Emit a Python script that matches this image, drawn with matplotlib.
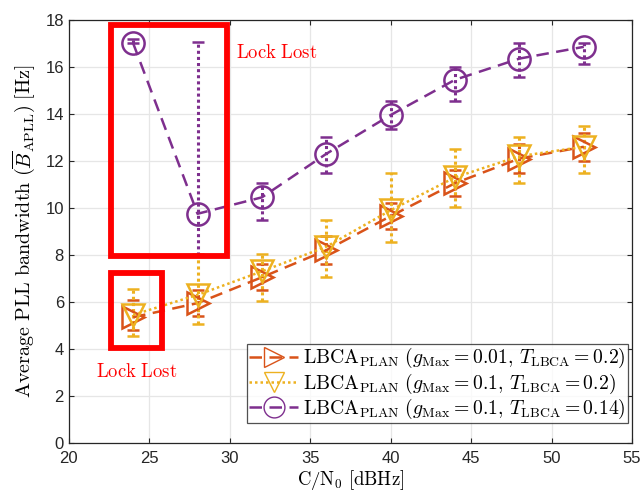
import numpy as np
import matplotlib
matplotlib.use('Agg')
import matplotlib.pyplot as plt
from matplotlib.patches import Rectangle
from matplotlib.lines import Line2D

plt.rcParams['mathtext.fontset'] = 'cm'
plt.rcParams['font.family'] = ['Liberation Sans', 'DejaVu Sans']

# C/N0 [dBHz]
cn0 = [24, 28, 32, 36, 40, 44, 48, 52]

# LBCA_PLAN (gMax = 0.01, T = 0.2)
orange_mean = [5.35, 5.95, 7.05, 8.2, 9.65, 11.05, 12.1, 12.6]
orange_low = [4.8, 5.4, 6.5, 7.6, 9.1, 10.5, 11.5, 12.0]
orange_high = [6.1, 6.5, 7.6, 8.8, 10.2, 11.6, 12.7, 13.2]

# LBCA_PLAN (gMax = 0.1, T = 0.2)
yellow_mean = [5.45, 6.3, 7.3, 8.35, 9.9, 11.3, 12.2, 12.6]
yellow_low = [4.55, 5.05, 6.05, 7.05, 8.55, 10.05, 11.05, 11.5]
yellow_high = [6.55, 8.05, 8.05, 9.5, 11.5, 12.5, 13.0, 13.5]

# LBCA_PLAN (gMax = 0.1, T = 0.14)
purple_mean = [17.0, 9.75, 10.45, 12.3, 13.95, 15.45, 16.35, 16.85]
purple_low = [17.0, 8.0, 9.5, 11.5, 13.35, 14.55, 15.55, 16.1]
purple_high = [17.2, 17.05, 11.05, 13.0, 14.55, 16.0, 17.0, 17.0]

labels = [
    r'$\mathrm{LBCA}_{\mathrm{PLAN}}\ (g_{\mathrm{Max}}=0.01,\, T_{\mathrm{LBCA}}=0.2)$',
    r'$\mathrm{LBCA}_{\mathrm{PLAN}}\ (g_{\mathrm{Max}}=0.1,\, T_{\mathrm{LBCA}}=0.2)$',
    r'$\mathrm{LBCA}_{\mathrm{PLAN}}\ (g_{\mathrm{Max}}=0.1,\, T_{\mathrm{LBCA}}=0.14)$',
]

series = [
    (orange_mean, orange_low, orange_high, '#D95319', '>', (0, (5, 3))),
    (yellow_mean, yellow_low, yellow_high, '#EDB120', 'v', (0, (1, 1.2))),
    (purple_mean, purple_low, purple_high, '#7E2F8E', 'o', (0, (5, 3))),
]

fig = plt.figure(figsize=(6.43, 4.95), dpi=100)
ax = fig.add_axes([0.107, 0.105, 0.876, 0.855])

handles = []
for (m, lo, hi, c, mk, ls), lab in zip(series, labels):
    m = np.array(m)
    yerr = [m - np.array(lo), np.array(hi) - m]
    eb = ax.errorbar(cn0, m, yerr=yerr, color=c, linestyle=ls, linewidth=1.8,
                     marker=mk, markersize=16, markerfacecolor='none',
                     markeredgewidth=1.8, capsize=4, capthick=2,
                     elinewidth=2.2)
    eb[2][0].set_linestyle((0, (1, 1)))
    handles.append(Line2D([0], [0], color=c, linestyle=ls, linewidth=1.8,
                          marker=mk, markersize=15, markerfacecolor='none',
                          markeredgewidth=1.0, label=lab))

# lock lost regions
ax.add_patch(Rectangle((22.65, 7.95), 7.2, 9.85, fill=False, edgecolor='#FF0000',
                       linewidth=4.2, zorder=5, clip_on=False))
ax.add_patch(Rectangle((22.65, 4.05), 3.15, 3.2, fill=False, edgecolor='#FF0000',
                       linewidth=4.2, zorder=5))
ax.text(30.4, 16.6, r'$\mathrm{Lock\ Lost}$', color='#FF0000', fontsize=13.5,
        ha='left', va='center')
ax.text(21.7, 3.0, r'$\mathrm{Lock\ Lost}$', color='#FF0000', fontsize=13.5,
        ha='left', va='center')

ax.set_xlim(20, 55)
ax.set_ylim(0, 18)
ax.set_xticks(np.arange(20, 56, 5))
ax.set_yticks(np.arange(0, 19, 2))
ax.grid(True, color='#E6E6E6', linewidth=0.9)
ax.set_axisbelow(True)
ax.tick_params(direction='in', top=True, right=True, labelsize=12, colors='#262626')
ax.tick_params(axis='x', pad=6)
for s in ax.spines.values():
    s.set_color('#262626')
    s.set_linewidth(0.9)

ax.set_xlabel(r'$\mathrm{C/N_0\ [dBHz]}$', fontsize=13.5, labelpad=1)
ax.set_ylabel(r'$\mathrm{Average\ PLL\ bandwidth\ }(\overline{B}_{\mathrm{APLL}})\ \mathrm{[Hz]}$',
              fontsize=14.5, labelpad=5)

leg = ax.legend(handles=handles, loc='lower right', bbox_to_anchor=(0.993, 0.047),
                fontsize=14.2, frameon=True, fancybox=False, edgecolor='#262626',
                handlelength=2.5, borderpad=0.12, labelspacing=0.05,
                handletextpad=0.25, borderaxespad=0.0)
leg.get_frame().set_linewidth(0.9)

fig.savefig('out.png', dpi=100)
